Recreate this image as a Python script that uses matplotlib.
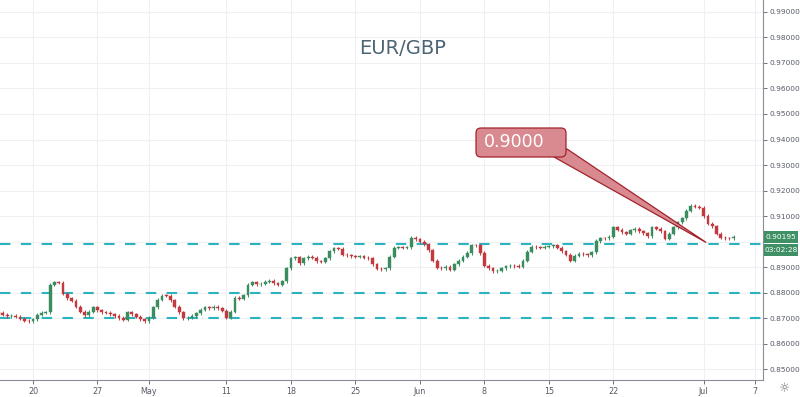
#
# Imports
#
import numpy as np
import matplotlib
matplotlib.use("Agg")
from matplotlib import pyplot as plt
from matplotlib.patches import FancyBboxPatch, Polygon
from matplotlib.transforms import IdentityTransform

#
# Data (8h candles, one close per slot; slot 0 = first candle of Mon 20 Apr)
#
first_slot = -8
closes = [
    0.8720, 0.8712, 0.8707, 0.8708, 0.8705, 0.8697, 0.8690, 0.8688, 0.8695, 0.8712,
    0.8720, 0.8722, 0.8830, 0.8840, 0.8838, 0.8795, 0.8778, 0.8768, 0.8745, 0.8725,
    0.8710, 0.8725, 0.8742, 0.8730, 0.8722, 0.8720, 0.8715, 0.8708, 0.8700, 0.8694,
    0.8722, 0.8715, 0.8705, 0.8695, 0.8688, 0.8702, 0.8742, 0.8772, 0.8788, 0.8787,
    0.8770, 0.8745, 0.8722, 0.8700, 0.8702, 0.8708, 0.8718, 0.8732, 0.8742, 0.8738,
    0.8744, 0.8738, 0.8728, 0.8702, 0.8724, 0.8780, 0.8776, 0.8790, 0.8830, 0.8840,
    0.8833, 0.8834, 0.8842, 0.8847, 0.8836, 0.8830, 0.8845, 0.8896, 0.8935, 0.8938,
    0.8915, 0.8935, 0.8940, 0.8936, 0.8922, 0.8920, 0.8935, 0.8962, 0.8973, 0.8972,
    0.8948, 0.8947, 0.8943, 0.8940, 0.8942, 0.8937, 0.8935, 0.8910, 0.8893, 0.8892,
    0.8896, 0.8940, 0.8975, 0.8977, 0.8975, 0.8978, 0.9015, 0.9008, 0.9000, 0.8990,
    0.8965, 0.8925, 0.8898, 0.8896, 0.8900, 0.8890, 0.8910, 0.8925, 0.8940, 0.8955,
    0.8986, 0.8985, 0.8955, 0.8905, 0.8896, 0.8884, 0.8885, 0.8895, 0.8903, 0.8905,
    0.8904, 0.8902, 0.8925, 0.8960, 0.8980, 0.8978, 0.8975, 0.8980, 0.8981, 0.8986,
    0.8975, 0.8962, 0.8948, 0.8925, 0.8945, 0.8953, 0.8950, 0.8947, 0.8958, 0.9002,
    0.9013, 0.9012, 0.9018, 0.9055, 0.9047, 0.9036, 0.9031, 0.9045, 0.9050, 0.9040,
    0.9033, 0.9020, 0.9055, 0.9050, 0.9040, 0.9010, 0.9030, 0.9055, 0.9075, 0.9092,
    0.9120, 0.9140, 0.9136, 0.9133, 0.9100, 0.9070, 0.9060, 0.9030, 0.9015, 0.9013,
    0.9012, 0.90195,
]
first_open = 0.8725

# x axis ticks: trading day index (Mon 20 Apr = 0) and labels
tick_days = [0, 5, 9, 15, 20, 25, 30, 35, 40, 45, 52, 56]
tick_labels = ["20", "27", "May", "11", "18", "25", "Jun", "8", "15", "22", "Jul", "7"]

# horizontal support levels and callout
levels = [0.8700, 0.8800, 0.8990]
callout_text = "0.9000"
callout_price = 0.8996
callout_day = 52.2

price_ticks = [0.85, 0.86, 0.87, 0.88, 0.89, 0.90, 0.91, 0.92, 0.93, 0.94, 0.95, 0.96, 0.97, 0.98, 0.99]
last_price = 0.90195
countdown = "03:02:28"

#
# main
#
if __name__ == "__main__":
    W, H = 800, 397
    fig = plt.figure(figsize=(W / 100, H / 100), dpi=100)
    fig.patch.set_facecolor("white")
    ax = fig.add_axes([0, 17 / H, 763 / W, 380 / H])

    slots = np.arange(len(closes)) + first_slot
    closes_a = np.array(closes)
    opens = np.concatenate([[first_open], closes_a[:-1]])
    up = closes_a >= opens
    body_lo = np.minimum(opens, closes_a)
    body_hi = np.maximum(opens, closes_a)
    wick = 0.0006

    green, red = "#3b8c5e", "#c23a3f"
    colors = np.where(up, green, red)

    # grid
    for d in tick_days:
        ax.axvline(d * 3, color="#eef0f4", lw=0.8, zorder=0)
    for p in price_ticks:
        ax.axhline(p, color="#eef0f4", lw=0.8, zorder=0)

    # candles
    ax.vlines(slots, body_lo - wick, body_hi + wick, colors=colors, lw=0.7, zorder=2)
    heights = np.maximum(body_hi - body_lo, 0.00015)
    ax.bar(slots, heights, bottom=body_lo, width=0.65, color=colors, edgecolor=colors,
           lw=0.3, zorder=3)

    # support levels
    for lv in levels:
        ax.axhline(lv, color="#2bb3c0", lw=1.5, dashes=(5, 5), zorder=1)

    ax.set_xlim(-7.67, 169.8)
    ax.set_ylim(0.8457, 0.9947)

    ax.set_xticks([d * 3 for d in tick_days])
    ax.set_xticklabels(tick_labels)
    ax.yaxis.tick_right()
    ax.set_yticks(price_ticks)
    # the 0.90000 label sits under the last-price tag
    ax.set_yticklabels(["" if abs(p - 0.90) < 1e-9 else "%.5f" % p for p in price_ticks])
    ax.tick_params(axis="y", labelsize=5.3, colors="#555a66", length=3, width=0.6, pad=2)
    ax.tick_params(axis="x", labelsize=5.8, colors="#555a66", length=3, width=0.6, pad=2)
    for side in ["top", "left"]:
        ax.spines[side].set_visible(False)
    ax.spines["right"].set_color("#8a8e97")
    ax.spines["bottom"].set_color("#8a8e97")
    ax.spines["right"].set_linewidth(0.8)
    ax.spines["bottom"].set_linewidth(0.8)

    # title
    ax.text(0.528, 0.872, "EUR/GBP", transform=ax.transAxes, ha="center", va="center",
            fontsize=14, color="#4c6474")

    # callout box (pixel coordinates) with wedge pointing to the level
    fig.canvas.draw()
    tip = ax.transData.transform((callout_day * 3, callout_price))
    fill, edge = "#d98a90", "#a3222c"
    wedge = Polygon([(554, H - 157), (567, H - 149), tuple(tip)], closed=True,
                    transform=IdentityTransform(), facecolor=fill, edgecolor=edge,
                    lw=0.9, zorder=5, clip_on=False)
    fig.add_artist(wedge)
    box = FancyBboxPatch((476, H - 157), 90, 29, boxstyle="round,pad=0,rounding_size=5",
                         transform=IdentityTransform(), facecolor=fill, edgecolor=edge,
                         lw=0.9, zorder=6)
    fig.add_artist(box)
    fig.text(484 / W, (H - 142) / H, callout_text, ha="left", va="center", fontsize=12.5,
             color="white", zorder=7)

    # last price labels on the price scale
    ly = ax.transData.transform((0, last_price))[1] / H
    for k, txt in enumerate(["%.5f" % last_price, countdown]):
        fig.add_artist(FancyBboxPatch((764, ly * H - 6 - 13 * k), 34, 12,
                                      boxstyle="square,pad=0", transform=IdentityTransform(),
                                      facecolor="#3f9065", edgecolor="none", zorder=8))
        fig.text(781 / W, ly - 13 * k / H, txt, ha="center", va="center", fontsize=5.3,
                 color="white", zorder=9)

    # settings icon
    fig.text(785 / W, 8 / H, "\u263c", ha="center", va="center", fontsize=9, color="#6b6f78")

    fig.savefig("out.png", dpi=100)
